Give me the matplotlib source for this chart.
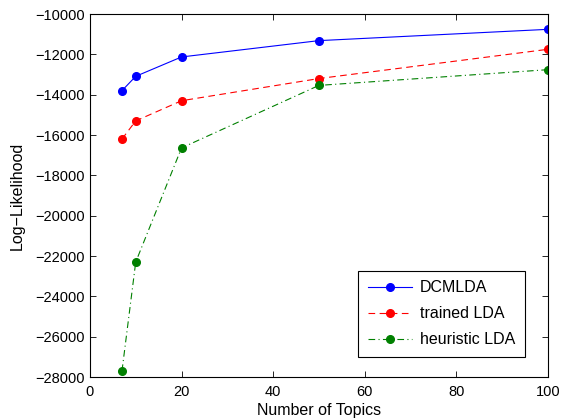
import matplotlib
matplotlib.use("Agg")
import matplotlib.pyplot as plt

topics = [7, 10, 20, 50, 100]
dcmlda = [-13800, -13090, -12130, -11320, -10760]
trained_lda = [-16200, -15300, -14300, -13200, -11750]
heuristic_lda = [-27700, -22300, -16640, -13540, -12760]

plt.rcParams["font.family"] = ["Liberation Sans", "DejaVu Sans"]
plt.rcParams["font.size"] = 10.5

fig = plt.figure(figsize=(5.62, 4.18), dpi=100)
ax = fig.add_axes([0.160, 0.098, 0.815, 0.8685])

ax.plot(topics, dcmlda, "-", color="blue", marker="o", markersize=5.5, lw=0.8, label="DCMLDA")
ax.plot(topics, trained_lda, "--", color="red", marker="o", markersize=5.5, lw=0.8,
        dashes=(6, 4), label="trained LDA")
ax.plot(topics, heuristic_lda, "-.", color="green", marker="o", markersize=5.5, lw=0.8,
        dashes=(6, 3, 1, 3), label="heuristic LDA")

ax.set_xlim(0, 100)
ax.set_ylim(-28000, -10000)
ax.set_xticks(range(0, 101, 20))
ax.set_yticks(range(-28000, -9999, 2000))
ax.tick_params(direction="in", top=True, right=True, length=4, width=0.6, labelsize=10.5)
ax.tick_params(axis="x", pad=5.5)
for s in ax.spines.values():
    s.set_linewidth(0.8)
ax.set_xlabel("Number of Topics", fontsize=11.5, labelpad=3)
ax.set_ylabel("Log\u2212Likelihood", fontsize=11.5, labelpad=8)

leg = ax.legend(loc="lower right", bbox_to_anchor=(0.950, 0.055), borderaxespad=0,
                fancybox=False, edgecolor="black", framealpha=1, borderpad=0.6,
                labelspacing=0.7, handlelength=2.8, handletextpad=0.5, fontsize=11.5)
leg.get_frame().set_linewidth(0.8)

fig.savefig("out.png", dpi=100)
